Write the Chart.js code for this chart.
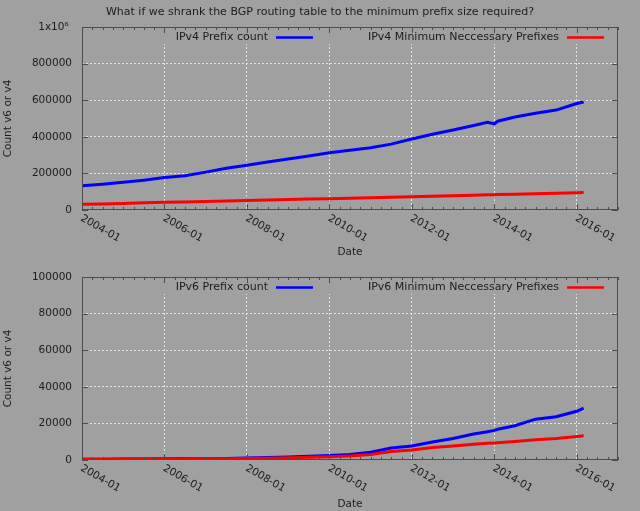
<!DOCTYPE html>
<html>
<head>
<meta charset="utf-8">
<script src="https://cdn.jsdelivr.net/npm/chart.js@4"></script>
<style>
  html, body { margin: 0; padding: 0; background: #a0a0a0; width: 640px; height: 511px; overflow: hidden; }
  canvas { position: absolute; left: 0; }
  #c1 { top: 0; }
  #c2 { top: 256px; }
</style>
</head>
<body>
<canvas id="c1" width="640" height="262"></canvas>
<canvas id="c2" width="640" height="255"></canvas>
<script>
const TITLE = 'What if we shrank the BGP routing table to the minimum prefix size required?';
const months = ['2004-01', '2004-07', '2005-01', '2005-07', '2006-01', '2006-07', '2007-01', '2007-07',
  '2008-01', '2008-07', '2009-01', '2009-07', '2010-01', '2010-07', '2011-01', '2011-07',
  '2012-01', '2012-07', '2013-01', '2013-07', '2013-11', '2014-01', '2014-02', '2014-07',
  '2015-01', '2015-07', '2016-01', '2016-03'];
const v4Count = [132000, 141000, 151000, 163000, 177000, 187000, 207000, 228000,
  245000, 262000, 279000, 295000, 313000, 326000, 340000, 360000,
  388000, 414000, 437000, 462000, 479000, 471000, 485000, 508000,
  529000, 546000, 582000, 590000];
const v4Min = [31000, 33000, 36000, 39000, 42000, 44000, 47000, 49500,
  52000, 54000, 57000, 59500, 62000, 64500, 67000, 70000,
  73000, 75500, 78000, 81000, 83000, 84000, 84500, 86500,
  89000, 91500, 94000, 95000];
const v6Count = [400, 450, 500, 550, 750, 800, 800, 850,
  1100, 1300, 1600, 2000, 2500, 3000, 4200, 6600,
  7700, 9800, 11800, 14200, 15400, 16200, 16800, 18700,
  22300, 23600, 26600, 28400];
const v6Min = [350, 400, 450, 500, 650, 750, 780, 750,
  800, 950, 1200, 1500, 1800, 2200, 3000, 4700,
  5500, 6800, 7700, 8600, 9100, 9300, 9400, 10100,
  11000, 11800, 12900, 13300];
const yearRange = [2004, 2017];
const v4Ticks = [0, 1000000, 200000];
const v6Ticks = [0, 100000, 20000];

const BG = '#a0a0a0', INK = '#1c1c1c', FRAME = '#4c4c4c', GRID = '#e4e4e4';
const FONT = { family: 'DejaVu Sans', size: 10.5 };
const KEYFONT = { family: 'DejaVu Sans', size: 11 };
const toYear = s => +s.slice(0, 4) + (+s.slice(5, 7) - 1) / 12;
const series = vals => vals.map((v, i) => ({ x: toYear(months[i]), y: v }));
const isMajor = v => v % 2 === 0;

// gnuplot look: boxed frame, inward ticks on all sides, opaque key row, rotated date labels
const gnuplotFrame = {
  id: 'gnuplotFrame',
  beforeDatasetsDraw(chart) {
    const { ctx, chartArea: a } = chart;
    ctx.save(); ctx.fillStyle = BG;
    ctx.fillRect(a.left + 1, a.top + 1, a.right - a.left - 2, 16);
    ctx.restore();
  },
  afterDraw(chart) {
    const { ctx, chartArea: a, scales: { x, y } } = chart;
    ctx.save();
    ctx.strokeStyle = FRAME; ctx.lineWidth = 1;
    ctx.strokeRect(a.left + 0.5, a.top + 0.5, a.right - a.left - 1, a.bottom - a.top - 1);
    ctx.beginPath();
    for (const t of x.ticks) {
      const px = Math.round(x.getPixelForValue(t.value)) + 0.5, len = isMajor(t.value) ? 6 : 3;
      ctx.moveTo(px, a.bottom); ctx.lineTo(px, a.bottom - len);
      ctx.moveTo(px, a.top); ctx.lineTo(px, a.top + len);
    }
    for (const t of y.ticks) {
      const py = Math.round(y.getPixelForValue(t.value)) + 0.5;
      ctx.moveTo(a.left, py); ctx.lineTo(a.left + 6, py);
      ctx.moveTo(a.right, py); ctx.lineTo(a.right - 6, py);
    }
    ctx.stroke();

    // x tick labels, rotated clockwise
    ctx.fillStyle = INK;
    ctx.font = `${FONT.size}px ${FONT.family}`;
    ctx.textAlign = 'left'; ctx.textBaseline = 'top';
    for (const t of x.ticks) {
      if (!isMajor(t.value) || t.value >= yearRange[1]) continue;
      ctx.save();
      ctx.translate(x.getPixelForValue(t.value) + 2, a.bottom + 3);
      ctx.rotate(Math.PI / 6);
      ctx.fillText(t.value + '-01', 0, 0);
      ctx.restore();
    }

    // key: text right-justified, then a line sample
    const sets = chart.data.datasets;
    ctx.font = `${KEYFONT.size}px ${KEYFONT.family}`;
    ctx.textAlign = 'right'; ctx.textBaseline = 'middle';
    sets.forEach((ds, i) => {
      const colRight = a.right - 14 - (sets.length - 1 - i) * 291, ky = a.top + 10.5;
      ctx.fillStyle = INK;
      ctx.fillText(ds.label, colRight - 45, ky);
      ctx.strokeStyle = ds.borderColor; ctx.lineWidth = 2.5;
      ctx.beginPath(); ctx.moveTo(colRight - 37, ky); ctx.lineTo(colRight, ky); ctx.stroke();
    });
    ctx.restore();
  },
};

function makeChart(id, labels, blue, red, yTicks, opts) {
  const [yMin, yMax, yStep] = yTicks;
  return new Chart(document.getElementById(id), {
    type: 'line',
    data: { datasets: [
      { label: labels[0], data: series(blue), borderColor: '#0000ff', order: 1 },
      { label: labels[1], data: series(red), borderColor: '#ff0000', order: 0 },
    ] },
    options: {
      responsive: false, animation: false, devicePixelRatio: 1,
      elements: { line: { borderWidth: 3, tension: 0 }, point: { radius: 0 } },
      layout: { padding: { top: opts.top, left: 0, right: 0, bottom: 0 } },
      plugins: {
        legend: { display: false }, tooltip: { enabled: false },
        title: { display: !!opts.title, text: opts.title || '', color: INK,
          font: { ...KEYFONT, weight: 'normal' }, padding: { top: 5.5, bottom: 8.3 } },
      },
      scales: {
        x: {
          type: 'linear', min: yearRange[0], max: yearRange[1],
          ticks: { display: false, stepSize: 0.25 },
          grid: { drawTicks: false, lineWidth: 1,
            color: c => isMajor(c.tick.value) && c.tick.value > yearRange[0] && c.tick.value < yearRange[1] ? GRID : 'transparent' },
          border: { display: false, dash: [2, 2] },
          title: { display: true, text: 'Date', color: INK, font: FONT, padding: { top: 0, bottom: opts.datePad } },
          afterFit: s => { s.height = opts.xHeight; },
        },
        y: {
          min: yMin, max: yMax,
          ticks: { stepSize: yStep, color: INK, font: FONT, padding: 10,
            callback: v => v === 1000000 ? '1x10⁶ ' : String(v) },
          grid: { drawTicks: false, lineWidth: 1,
            color: c => c.tick.value > yMin && c.tick.value < yMax ? GRID : 'transparent' },
          border: { display: false, dash: [2, 2] },
          title: { display: true, text: 'Count v6 or v4', color: INK, font: FONT, padding: { top: 1.7, bottom: 0 } },
          afterFit: s => { s.width = 82; },
        },
        y2: {
          position: 'right', ticks: { display: false }, grid: { display: false }, border: { display: false },
          afterFit: s => { s.width = 22; },
        },
      },
    },
    plugins: [gnuplotFrame],
  });
}

makeChart('c1', ['IPv4 Prefix count', 'IPv4 Minimum Neccessary Prefixes'], v4Count, v4Min, v4Ticks,
  { title: TITLE, top: 0, xHeight: 52, datePad: 3.2 });
makeChart('c2', ['IPv6 Prefix count', 'IPv6 Minimum Neccessary Prefixes'], v6Count, v6Min, v6Ticks,
  { top: 21, xHeight: 51, datePad: 0.7 });
</script>
</body>
</html>
